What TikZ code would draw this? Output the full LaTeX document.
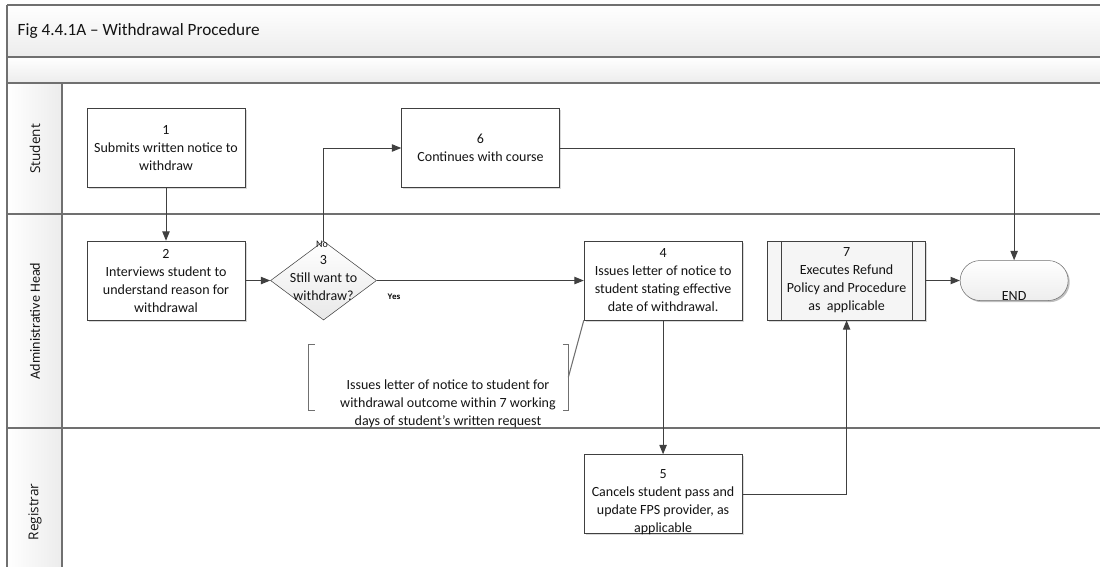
\documentclass[tikz,border=0pt]{standalone}
\usepackage{fontspec}
\setmainfont{Carlito}
\newfontfamily\lanefont{Open Sans}
\usepackage{tikz}
\usetikzlibrary{positioning,arrows.meta,shapes.geometric,shapes.misc,shadows}
\definecolor{flowline}{HTML}{404040}
\definecolor{poolline}{HTML}{707070}
\definecolor{bandbot}{HTML}{ECECEC}
\definecolor{inktext}{HTML}{141414}
\newcommand{\boxsize}{\fontsize{10.5}{13.5}\selectfont}

\begin{document}
\begin{tikzpicture}[
  x=0.75pt, y=-0.75pt,
  font=\boxsize, text=inktext,
  box/.style={draw=flowline, fill=white, align=center, inner sep=2pt,
              minimum width=118.5pt, minimum height=59.25pt,
              drop shadow={shadow xshift=1.2pt, shadow yshift=-1.2pt,
                           fill=black!15, opacity=1}},
  subproc/.style={box, fill=black!4},
  diam/.style={diamond, draw=flowline, inner sep=0pt,
               minimum width=79.5pt, minimum height=59.25pt,
               top color=white, bottom color=black!9},
  term/.style={rounded rectangle, draw=poolline, inner sep=0pt,
               minimum width=81pt, minimum height=30pt,
               top color=white, bottom color=black!7,
               drop shadow={shadow xshift=1.2pt, shadow yshift=-1.2pt,
                            fill=black!25, opacity=1}},
  memo/.style={inner sep=0pt, minimum width=194.25pt, minimum height=48.75pt},
  lane/.style={rotate=90, font=\lanefont\fontsize{10.2}{12}\selectfont},
  flow/.style={draw=flowline, line width=0.75pt,
               -{Triangle[length=7pt, width=5.5pt]}},
  bracket/.style={draw=poolline, line width=0.8pt},
  poolrule/.style={draw=poolline, line width=1pt},
  ]
  \useasboundingbox (0,0) rectangle (1100,567);

  % pool header and lane column
  \shade[top color=white, bottom color=bandbot] (7,5) rectangle (1100,57);
  \shade[top color=white, bottom color=bandbot] (7,57) rectangle (1100,83);
  \shade[left color=white, right color=bandbot] (7,83) rectangle (62,567);
  \draw[poolrule] (7,5) -- (1100,5);
  \draw[poolrule] (7,57) -- (1100,57);
  \draw[poolrule, line width=1.3pt] (7,83) -- (1100,83);
  \draw[poolrule] (7,214) -- (1100,214);
  \draw[poolrule] (7,428) -- (1100,428);
  \draw[poolrule] (7,5) -- (7,567);
  \draw[poolrule] (62,83) -- (62,567);

  \node[anchor=west, font=\fontsize{12.9}{15}\selectfont] (title) at (13,31)
    {Fig 4.4.1A -- Withdrawal Procedure};
  \node[lane] (student) at (35,149) {Student};
  \node[lane, font=\fontsize{10.6}{12}\selectfont] (admin) at (35,321) {Administrative Head};
  \node[lane] (registrar) at (35,512) {Registrar};

  % steps
  \node[box] (submit) at (166,148) {1\\Submits written notice to\\withdraw};
  \node[box, below=39.75pt of submit] (interview)
    {2\\Interviews student to\\understand reason for\\withdrawal};
  \node[diam, right=18.75pt of interview,
        label={[name=decidetxt, align=center, yshift=1.8pt]center:{3\\Still want to\\withdraw?}}]
    (decide) {};
  \node[box, right=117pt of submit] (cont) {6\\Continues with course};
  \node[box, right=155.25pt of decide] (notice)
    {4\\Issues letter of notice to\\student stating effective\\date of withdrawal.};
  \node[subproc, right=18.75pt of notice] (refund)
    {7\\Executes Refund\\Policy and Procedure\\as\ \ applicable};
  \node[term, right=25.5pt of refund,
        label={[name=finishtxt, yshift=-11.5pt]center:END}] (finish) {};
  \node[box, below=100.5pt of notice,
        label={[name=canceltxt, align=center, yshift=-6.4pt]center:{5\\Cancels student pass and\\update FPS provider, as\\applicable}}]
    (cancel) {};
  \node[memo, label={[name=memotxt, align=center, xshift=7.1pt, yshift=-19.5pt]center:{Issues letter of notice to student for\\withdrawal outcome within 7 working\\days of student's written request}}]
    (memo) at (438.5,377.5) {};

  \node[font=\fontsize{7.5}{9}\selectfont] (nolbl) at (322,244) {No};
  \node[font=\lanefont\bfseries\fontsize{5.8}{7}\selectfont] (yeslbl) at (394,297) {Yes};

  % sub-process side bars
  \draw[flowline] ([xshift=10.5pt]refund.north west) -- ([xshift=10.5pt]refund.south west);
  \draw[flowline] ([xshift=-10pt]refund.north east) -- ([xshift=-10pt]refund.south east);

  % annotation bracket
  \draw[bracket] ([xshift=4.5pt]memo.north west) -| (memo.south west)
    -- ([xshift=4.5pt]memo.south west);
  \draw[bracket] ([xshift=-4pt]memo.north east) -| (memo.south east)
    -- ([xshift=-4pt]memo.south east);
  \draw[bracket] (memo.east) -- (notice.south west);

  % flow
  \draw[flow] (submit) -- (interview);
  \draw[flow] (interview) -- (decide);
  \draw[flow] (decide) -- (notice);
  \draw[flow] (decide.north) |- (cont.west);
  \draw[flow] (cont.east) -| (finish.north);
  \draw[flow] (notice) -- (cancel);
  \draw[flow] (cancel.east) -| (refund.south);
  \draw[flow] (refund) -- (finish);
\end{tikzpicture}
\end{document}
